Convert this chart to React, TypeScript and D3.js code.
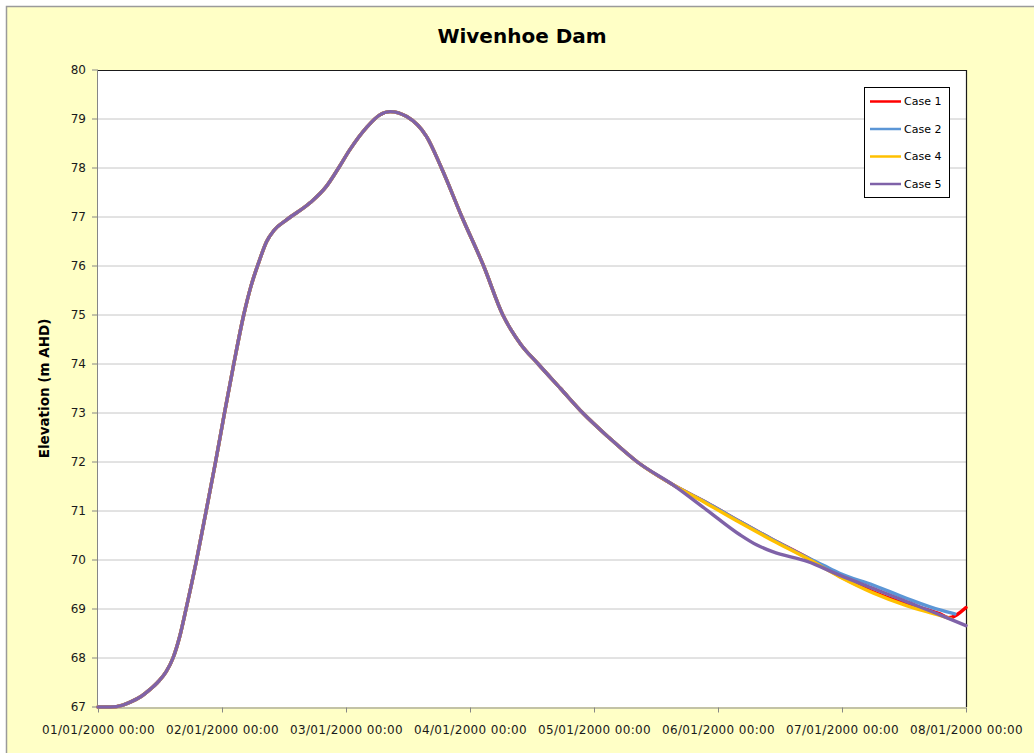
import { useEffect, useRef } from 'react';
import * as d3 from 'd3';

// time in days since 01/01/2000 00:00, elevation in m AHD
const sharedDays = [0, 0.1, 0.2, 0.26, 0.35, 0.42, 0.48, 0.55, 0.605, 0.66, 0.71, 0.795, 0.872, 0.948, 1.02, 1.095, 1.175, 1.235, 1.3, 1.36, 1.42, 1.52, 1.71, 1.84, 1.94, 2.03, 2.17, 2.27, 2.355, 2.49, 2.65, 2.77, 2.935, 3.11, 3.265, 3.33, 3.41, 3.55, 3.73, 3.91, 4.12, 4.35, 4.64];
const sharedLevels = [67.0, 67.0, 67.04, 67.1, 67.22, 67.36, 67.5, 67.72, 68.0, 68.45, 69.0, 70.0, 71.0, 72.0, 73.0, 74.0, 75.0, 75.6, 76.1, 76.5, 76.73, 76.94, 77.29, 77.62, 78.0, 78.37, 78.84, 79.08, 79.15, 79.05, 78.64, 78.0, 77.0, 76.0, 75.0, 74.7, 74.4, 74.0, 73.5, 73.0, 72.5, 72.0, 71.53];

const case1Days = [4.91, 5.18, 5.44, 5.72, 5.98, 6.25, 6.52, 6.79, 6.86, 7.0];
const case1Levels = [71.17, 70.78, 70.42, 70.05, 69.67, 69.35, 69.1, 68.9, 68.82, 69.03];
const case2Days = [4.91, 5.18, 5.44, 5.72, 5.85, 5.98, 6.25, 6.52, 6.79, 6.91];
const case2Levels = [71.17, 70.78, 70.42, 70.05, 69.89, 69.73, 69.49, 69.22, 68.98, 68.9];
const case4Days = [4.91, 5.18, 5.44, 5.72, 5.98, 6.25, 6.52, 6.79, 6.88];
const case4Levels = [71.15, 70.76, 70.4, 70.03, 69.66, 69.33, 69.07, 68.87, 68.8];
const case5Days = [4.91, 5.18, 5.31, 5.44, 5.72, 5.98, 6.25, 6.52, 6.79, 7.0];
const case5Levels = [71.02, 70.51, 70.31, 70.17, 69.97, 69.69, 69.42, 69.15, 68.88, 68.66];

const seriesNames = ['Case 1', 'Case 2', 'Case 4', 'Case 5'];
const seriesColors = ['#ff0000', '#5b96d6', '#ffc000', '#7f62a8'];
const yTicks = [67, 68, 69, 70, 71, 72, 73, 74, 75, 76, 77, 78, 79, 80];

const start = new Date(2000, 0, 1);
const toDate = (d: number) => new Date(start.getTime() + d * 864e5);

export default function App() {
  const width = 1034;
  const height = 753;
  const left = 98, right = 966, top = 70, bottom = 707;

  const x = d3.scaleTime().domain([start, toDate(7)]).range([left, right]);
  const y = d3.scaleLinear().domain([67, 80]).range([bottom, top]);

  const tails = [
    [case1Days, case1Levels],
    [case2Days, case2Levels],
    [case4Days, case4Levels],
    [case5Days, case5Levels],
  ];
  const series = tails.map(([days, lv], i) => ({
    name: seriesNames[i],
    color: seriesColors[i],
    pts: sharedDays.map((d, j) => [d, sharedLevels[j]] as [number, number])
      .concat(days.map((d, j) => [d, lv[j]] as [number, number])),
  }));

  const line = d3.line<[number, number]>()
    .x(d => x(toDate(d[0])))
    .y(d => y(d[1]))
    .curve(d3.curveMonotoneX);

  const fmt = d3.timeFormat('%d/%m/%Y %H:%M');
  const xTicks = x.ticks(d3.timeDay.every(1)!);

  const gx = useRef<SVGGElement>(null);
  useEffect(() => {
    if (gx.current) {
      d3.select(gx.current)
        .call(d3.axisBottom(x).tickValues(xTicks).tickFormat(d => fmt(d as Date)).tickSize(5).tickPadding(13).tickSizeOuter(0))
        .call(g => g.select('.domain').attr('stroke', '#868686'))
        .call(g => g.selectAll('.tick line').attr('stroke', '#868686'))
        .call(g => g.selectAll('.tick text')
          .attr('font-family', 'DejaVu Sans').attr('font-size', 12)
          .attr('letter-spacing', 0.35).attr('fill', '#1a1a1a'));
    }
  }, []);

  const font = 'DejaVu Sans';
  const legendY = [101.5, 129, 156.5, 184];

  return (
    <svg width={width} height={height} style={{ position: 'absolute', left: 0, top: 0, display: 'block' }}>
      <rect x={0} y={0} width={width} height={height} fill='#ffffff' />
      <rect x={6.5} y={6.5} width={width + 10} height={height + 10} fill='#ffffc6' stroke='#9a9a9a' strokeWidth={1.5} />
      <text x={522} y={43} textAnchor='middle' fontFamily={font} fontWeight='bold' fontSize={20} fill='#000'>Wivenhoe Dam</text>

      <rect x={left} y={top} width={right - left} height={bottom - top} fill='#ffffff' />
      {yTicks.filter(t => t > 67 && t < 80).map(t => (
        <line key={t} x1={left} x2={right} y1={y(t)} y2={y(t)} stroke='#c6c6c6' strokeWidth={1} />
      ))}
      <line x1={left} x2={right} y1={top + 0.5} y2={top + 0.5} stroke='#1a1a1a' strokeWidth={1.2} />
      <line x1={right + 0.5} x2={right + 0.5} y1={top} y2={bottom} stroke='#1a1a1a' strokeWidth={1.2} />
      <line x1={left - 0.5} x2={left - 0.5} y1={top} y2={bottom} stroke='#868686' strokeWidth={1} />
      {yTicks.map(t => (
        <g key={t}>
          <line x1={left - 6} x2={left} y1={y(t)} y2={y(t)} stroke='#868686' />
          <text x={left - 12} y={y(t)} dy='0.35em' textAnchor='end' fontFamily={font} fontSize={12} fill='#1a1a1a'>{t}</text>
        </g>
      ))}
      <g ref={gx} transform={`translate(0,${bottom + 0.5})`} />
      <text transform={`translate(49,${(top + bottom) / 2}) rotate(-90)`} textAnchor='middle' fontFamily={font} fontWeight='bold' fontSize={13.5} fill='#000'>Elevation (m AHD)</text>

      <g>
        {series.map(s => (
          <path key={s.name} d={line(s.pts) ?? ''} fill='none' stroke={s.color} strokeWidth={3.4} strokeLinejoin='round' strokeLinecap='round' />
        ))}
      </g>

      <rect x={864.5} y={87.5} width={85} height={110} fill='#ffffff' stroke='#000' strokeWidth={1} />
      {series.map((s, i) => (
        <g key={s.name}>
          <line x1={870} x2={901} y1={legendY[i]} y2={legendY[i]} stroke={s.color} strokeWidth={2.5} />
          <text x={904} y={legendY[i]} dy='0.35em' fontFamily={font} fontSize={11} fill='#000'>{s.name}</text>
        </g>
      ))}
    </svg>
  );
}
